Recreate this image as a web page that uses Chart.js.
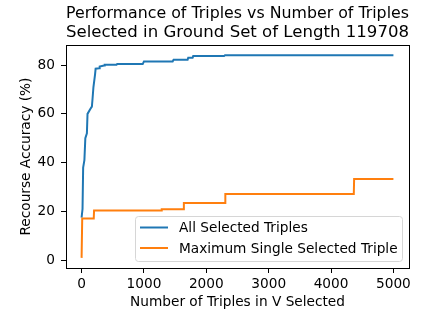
<!DOCTYPE html>
<html>
<head>
<meta charset="utf-8">
<script src="https://cdn.jsdelivr.net/npm/chart.js@4.4.1/dist/chart.umd.min.js"></script>
<style>
  html, body { margin: 0; padding: 0; background: #fff; }
  canvas { display: block; }
</style>
</head>
<body>
<canvas id="grafico" width="427" height="314"></canvas>
<script>
// dados
const tituloLinhas = ['Performance of Triples vs Number of Triples', 'Selected in Ground Set of Length 119708'];
const nomesSeries = ['All Selected Triples', 'Maximum Single Selected Triple'];

const todasX = [0, 15, 25, 45, 60, 85, 95, 140, 165, 175, 190, 215, 225, 280, 290, 360, 370, 560, 570, 980, 1000, 1460, 1475, 1700, 1710, 1780, 1790, 2285, 2300, 5000];
const todasY = [17.5, 21, 38, 41, 50, 52, 60, 62, 63, 66, 71, 76, 78.5, 78.7, 79.4, 79.8, 80.1, 80.1, 80.4, 80.4, 81.5, 81.5, 82.2, 82.2, 83.0, 83.0, 83.7, 83.7, 84.0, 84.0];

const maxX = [0, 10, 195, 200, 1280, 1285, 1635, 1640, 2300, 2305, 4365, 4370, 5000];
const maxY = [1, 17.1, 17.1, 20.4, 20.4, 20.9, 20.9, 23.5, 23.5, 27.2, 27.2, 33.3, 33.3];

const ticksX = [0, 1000, 2000, 3000, 4000, 5000];
const ticksY = [0, 20, 40, 60, 80];

const FONTE = 'DejaVu Sans';

function pontos(xs, ys) {
    return xs.map((x, i) => ({ x: x, y: ys[i] }));
}

// moldura completa do eixo
const molduraPlugin = {
    id: 'moldura',
    afterDatasetsDraw(chart) {
        const { ctx, chartArea: a } = chart;
        ctx.save();
        ctx.strokeStyle = '#000';
        ctx.lineWidth = 1;
        ctx.strokeRect(Math.round(a.left) + 0.5, Math.round(a.top) + 0.5,
            Math.round(a.right - a.left), Math.round(a.bottom - a.top));
        ctx.restore();
    }
};

// legenda no canto inferior direito
const legendaPlugin = {
    id: 'legendaDentro',
    afterDraw(chart) {
        const { ctx, chartArea: a } = chart;
        const ds = chart.data.datasets;
        const x1 = 135.5, x2 = a.right - 6.5, y1 = 216.5, y2 = a.bottom - 6.5;
        ctx.save();
        ctx.beginPath();
        ctx.roundRect(x1, y1, x2 - x1, y2 - y1, 3);
        ctx.fillStyle = 'rgba(255,255,255,0.8)';
        ctx.fill();
        ctx.strokeStyle = '#d6d6d6';
        ctx.lineWidth = 1;
        ctx.stroke();
        ctx.font = '13.7px ' + FONTE;
        ctx.textBaseline = 'middle';
        ctx.fillStyle = '#000';
        const linhas = [227.5, 248];
        ds.forEach((d, i) => {
            ctx.beginPath();
            ctx.strokeStyle = d.borderColor;
            ctx.lineWidth = 2;
            ctx.moveTo(140, linhas[i]);
            ctx.lineTo(168, linhas[i]);
            ctx.stroke();
            ctx.fillText(d.label, 179, linhas[i] + 1);
        });
        ctx.restore();
    }
};

new Chart(document.getElementById('grafico').getContext('2d'), {
    type: 'line',
    data: {
        datasets: [{
            label: nomesSeries[0],
            data: pontos(todasX, todasY),
            borderColor: '#1f77b4',
            borderWidth: 2,
            pointRadius: 0,
            tension: 0,
            fill: false,
            order: 1
        }, {
            label: nomesSeries[1],
            data: pontos(maxX, maxY),
            borderColor: '#ff7f0e',
            borderWidth: 2,
            pointRadius: 0,
            tension: 0,
            fill: false,
            order: 0
        }]
    },
    options: {
        responsive: false,
        animation: false,
        devicePixelRatio: 1,
        layout: { padding: { left: 0, right: 18, top: 0, bottom: 0 } },
        plugins: {
            legend: { display: false },
            tooltip: { enabled: false },
            title: {
                display: true,
                text: tituloLinhas,
                fullSize: false,
                color: '#000',
                font: { family: FONTE, size: 16.6, weight: 'normal', lineHeight: 1.15 },
                padding: { top: 4, bottom: 3 }
            }
        },
        scales: {
            x: {
                type: 'linear',
                min: -250,
                max: 5250,
                afterFit: s => { s.height = 46; },
                afterBuildTicks: s => { s.ticks = ticksX.map(v => ({ value: v })); },
                grid: { display: true, drawOnChartArea: false, drawTicks: true, tickLength: 5, color: '#000', lineWidth: 1 },
                border: { display: false },
                ticks: { color: '#000', padding: 3, maxRotation: 0, callback: v => String(v), font: { family: FONTE, size: 13.7 } },
                title: { display: true, text: 'Number of Triples in V Selected', color: '#000', padding: { top: 0, bottom: 3 }, font: { family: FONTE, size: 13.7 } }
            },
            y: {
                type: 'linear',
                min: -3.15,
                max: 88.15,
                afterFit: s => { s.width = 66; },
                afterBuildTicks: s => { s.ticks = ticksY.map(v => ({ value: v })); },
                grid: { display: true, drawOnChartArea: false, drawTicks: true, tickLength: 5, color: '#000', lineWidth: 1 },
                border: { display: false },
                ticks: { color: '#000', padding: 6, callback: v => String(v), font: { family: FONTE, size: 13.7 } },
                title: { display: true, text: 'Recourse Accuracy (%)', color: '#000', padding: { top: 18, bottom: 0 }, font: { family: FONTE, size: 13.7 } }
            }
        }
    },
    plugins: [molduraPlugin, legendaPlugin]
});
</script>
</body>
</html>
